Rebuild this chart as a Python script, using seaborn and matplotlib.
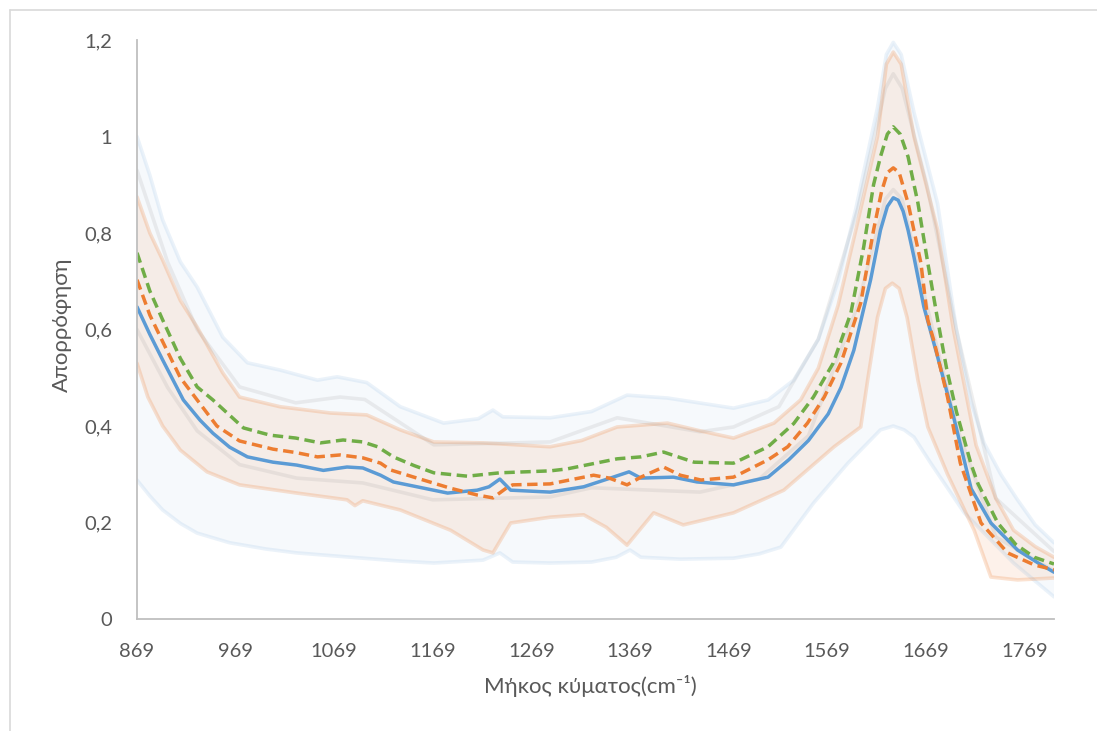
import numpy as np
import pandas as pd
import matplotlib
matplotlib.use("Agg")
import matplotlib.pyplot as plt
from matplotlib.lines import Line2D
import seaborn as sns

# ---------------- data ----------------
blue_x = [869, 882, 895, 916, 933, 946, 963, 981, 1007, 1031, 1058, 1082, 1098, 1116, 1129, 1153,
          1184, 1214, 1226, 1237, 1248, 1288, 1322, 1349, 1368, 1380, 1413, 1437, 1474, 1509, 1530,
          1550, 1570, 1583, 1596, 1613, 1623, 1630, 1636, 1641, 1646, 1651, 1657, 1667, 1681, 1697,
          1715, 1735, 1762, 1783, 1799]
blue_y = [0.647, 0.59, 0.537, 0.454, 0.412, 0.385, 0.356, 0.336, 0.325, 0.319, 0.308, 0.315, 0.313,
          0.298, 0.284, 0.274, 0.261, 0.267, 0.274, 0.290, 0.267, 0.263, 0.274, 0.292, 0.305, 0.292,
          0.294, 0.284, 0.278, 0.294, 0.33, 0.37, 0.425, 0.48, 0.557, 0.703, 0.806, 0.855, 0.873,
          0.868, 0.845, 0.806, 0.750, 0.647, 0.543, 0.420, 0.270, 0.199, 0.143, 0.116, 0.097]

orange_x = [869, 882, 895, 913, 930, 950, 973, 1007, 1030, 1052, 1075, 1098, 1116, 1126, 1153, 1187,
            1214, 1230, 1244, 1250, 1288, 1332, 1348, 1366, 1380, 1403, 1420, 1441, 1474, 1509, 1529,
            1549, 1566, 1583, 1603, 1616, 1624, 1630, 1636, 1642, 1651, 1664, 1671, 1677, 1691, 1704,
            1725, 1752, 1779, 1799]
orange_y = [0.703, 0.63, 0.575, 0.50, 0.454, 0.40, 0.369, 0.352, 0.345, 0.336, 0.340, 0.334, 0.323,
            0.309, 0.292, 0.271, 0.257, 0.251, 0.272, 0.278, 0.280, 0.298, 0.292, 0.278, 0.294, 0.315,
            0.298, 0.288, 0.294, 0.330, 0.357, 0.406, 0.46, 0.531, 0.655, 0.806, 0.885, 0.925, 0.935,
            0.925, 0.862, 0.738, 0.620, 0.578, 0.460, 0.323, 0.199, 0.137, 0.112, 0.102]

green_x = [869, 882, 895, 913, 930, 946, 977, 1004, 1030, 1055, 1078, 1098, 1113, 1129, 1150, 1170,
           1204, 1237, 1288, 1305, 1356, 1380, 1403, 1434, 1474, 1509, 1535, 1555, 1575, 1593, 1606,
           1616, 1623, 1630, 1636, 1643, 1651, 1661, 1671, 1681, 1690, 1700, 1715, 1722, 1742, 1760,
           1779, 1799]
green_y = [0.759, 0.68, 0.62, 0.54, 0.481, 0.454, 0.396, 0.381, 0.375, 0.365, 0.371, 0.367, 0.357,
           0.336, 0.318, 0.303, 0.296, 0.303, 0.307, 0.311, 0.332, 0.336, 0.346, 0.325, 0.323, 0.357,
           0.405, 0.46, 0.53, 0.634, 0.771, 0.90, 0.958, 1.005, 1.020, 1.005, 0.958, 0.862, 0.738,
           0.620, 0.52, 0.43, 0.32, 0.28, 0.199, 0.155, 0.128, 0.114]

# error envelopes
blue_up_x = [869, 882, 895, 913, 930, 956, 981, 1014, 1052, 1072, 1102, 1136, 1180, 1215, 1230, 1240,
             1288, 1330, 1366, 1407, 1474, 1509, 1535, 1560, 1580, 1598, 1620, 1629, 1636, 1644, 1657,
             1681, 1700, 1715, 1728, 1745, 1762, 1780, 1799]
blue_up_y = [1.00, 0.92, 0.827, 0.74, 0.688, 0.584, 0.531, 0.516, 0.495, 0.502, 0.490, 0.44, 0.406,
             0.415, 0.433, 0.419, 0.417, 0.43, 0.464, 0.458, 0.437, 0.454, 0.495, 0.58, 0.70, 0.85,
             1.06, 1.17, 1.195, 1.17, 1.05, 0.86, 0.60, 0.45, 0.365, 0.30, 0.247, 0.195, 0.158]
blue_lo_x = [869, 882, 895, 913, 930, 963, 1000, 1031, 1098, 1136, 1170, 1220, 1237, 1250, 1288, 1330,
             1355, 1369, 1380, 1420, 1474, 1500, 1522, 1555, 1590, 1623, 1636, 1647, 1657, 1674, 1708,
             1758, 1799]
blue_lo_y = [0.288, 0.255, 0.226, 0.198, 0.178, 0.158, 0.145, 0.137, 0.126, 0.120, 0.116, 0.122,
             0.137, 0.118, 0.116, 0.118, 0.128, 0.143, 0.128, 0.124, 0.126, 0.135, 0.149, 0.240,
             0.323, 0.392, 0.400, 0.392, 0.377, 0.323, 0.220, 0.116, 0.046]

orange_up_x = [869, 882, 895, 913, 930, 956, 973, 1014, 1065, 1102, 1136, 1170, 1220, 1288, 1320, 1356,
               1407, 1440, 1474, 1515, 1542, 1560, 1580, 1598, 1620, 1629, 1636, 1644, 1657, 1681,
               1697, 1720, 1740, 1758, 1780, 1799]
orange_up_y = [0.875, 0.80, 0.744, 0.66, 0.605, 0.51, 0.46, 0.44, 0.427, 0.423, 0.392, 0.367, 0.365,
               0.357, 0.37, 0.398, 0.406, 0.39, 0.375, 0.406, 0.454, 0.52, 0.65, 0.806, 1.0, 1.15,
               1.175, 1.15, 1.0, 0.806, 0.60, 0.36, 0.25, 0.184, 0.15, 0.128]
orange_lo_x = [869, 880, 895, 913, 940, 973, 1031, 1082, 1090, 1098, 1136, 1187, 1220, 1230, 1248, 1288,
               1322, 1345, 1366, 1393, 1423, 1474, 1525, 1576, 1603, 1610, 1620, 1628, 1635, 1642,
               1650, 1661, 1671, 1691, 1718, 1735, 1762, 1799]
orange_lo_y = [0.53, 0.46, 0.40, 0.35, 0.305, 0.278, 0.261, 0.247, 0.235, 0.245, 0.226, 0.184, 0.143,
               0.137, 0.199, 0.211, 0.216, 0.19, 0.153, 0.220, 0.195, 0.220, 0.267, 0.357, 0.398,
               0.495, 0.625, 0.685, 0.696, 0.685, 0.625, 0.495, 0.398, 0.30, 0.184, 0.087, 0.081,
               0.085]

green_up_x = [869, 900, 930, 973, 1030, 1075, 1100, 1170, 1288, 1356, 1440, 1474, 1520, 1560, 1600,
              1628, 1636, 1645, 1670, 1700, 1740, 1799]
green_up_y = [0.93, 0.74, 0.60, 0.481, 0.448, 0.460, 0.455, 0.361, 0.367, 0.417, 0.388, 0.398, 0.44,
              0.58, 0.85, 1.10, 1.13, 1.10, 0.90, 0.60, 0.25, 0.14]
green_lo_x = [869, 900, 930, 973, 1031, 1098, 1169, 1288, 1330, 1440, 1500, 1550, 1600, 1628, 1636,
              1645, 1670, 1700, 1740, 1799]
green_lo_y = [0.60, 0.48, 0.39, 0.32, 0.292, 0.282, 0.247, 0.253, 0.272, 0.263, 0.29, 0.38, 0.65, 0.87,
              0.89, 0.87, 0.65, 0.40, 0.17, 0.10]

x_ticks = [869, 969, 1069, 1169, 1269, 1369, 1469, 1569, 1669, 1769]
y_ticks = [0, 0.2, 0.4, 0.6, 0.8, 1.0, 1.2]
y_tick_labels = ["0", "0,2", "0,4", "0,6", "0,8", "1", "1,2"]
x_label = "Μήκος κύματος(cm⁻¹)"
y_label = "Απορρόφηση"

# ---------------- style ----------------
sns.set_theme(style="white")
plt.rcParams["font.family"] = ["Lato", "DejaVu Sans"]

BLUE = "#5B9BD5"
ORANGE = "#ED7D31"
GREEN = "#70AD47"
TXT = "#595959"

fig = plt.figure(figsize=(10.97, 7.31), dpi=100)
ax = fig.add_axes([137 / 1097, (731 - 619) / 731, (1054 - 137) / 1097, (619 - 40) / 731])


def band(xu, yu, xl, yl, color, fill_alpha, edge_color, edge_alpha, lw=2.6):
    px = np.concatenate([np.asarray(xu, float), np.asarray(xl, float)[::-1]])
    py = np.concatenate([np.asarray(yu, float), np.asarray(yl, float)[::-1]])
    ax.fill(px, py, color=color, alpha=fill_alpha, lw=0)
    sns.lineplot(x=xu, y=yu, ax=ax, color=edge_color, alpha=edge_alpha, lw=lw, sort=False)
    sns.lineplot(x=xl, y=yl, ax=ax, color=edge_color, alpha=edge_alpha, lw=lw, sort=False)


band(blue_up_x, blue_up_y, blue_lo_x, blue_lo_y, BLUE, 0.05, BLUE, 0.12)
band(orange_up_x, orange_up_y, orange_lo_x, orange_lo_y, ORANGE, 0.10, ORANGE, 0.22)
band(green_up_x, green_up_y, green_lo_x, green_lo_y, "#9a9a9a", 0.0, "#9a9a9a", 0.16)

sns.lineplot(x=blue_x, y=blue_y, ax=ax, color=BLUE, lw=2.5, sort=False)
sns.lineplot(x=orange_x, y=orange_y, ax=ax, color=ORANGE, lw=2.5, sort=False)
ax.lines[-1].set_dashes([3, 1.6])
sns.lineplot(x=green_x, y=green_y, ax=ax, color=GREEN, lw=2.5, sort=False)
ax.lines[-1].set_dashes([3, 1.6])

ax.set_xlim(869, 1799)
ax.set_ylim(0, 1.2)
ax.set_xticks(x_ticks)
ax.set_xticklabels([str(t) for t in x_ticks])
ax.set_yticks(y_ticks)
ax.set_yticklabels(y_tick_labels)
ax.tick_params(axis="both", length=0, labelsize=14.5, colors=TXT)
ax.tick_params(axis="x", pad=17)
ax.tick_params(axis="y", pad=18)

for s in ["top", "right"]:
    ax.spines[s].set_visible(False)
for s in ["left", "bottom"]:
    ax.spines[s].set_color("#bfbfbf")
    ax.spines[s].set_linewidth(1.3)
ax.grid(False)

ax.set_xlabel(x_label, fontsize=16, color=TXT)
ax.set_ylabel(y_label, fontsize=16, color=TXT)
ax.xaxis.set_label_coords((590 - 137) / 917, (619 - 675) / 579)
ax.yaxis.set_label_coords((72 - 137) / 917, (619 - 325) / 579)

# outer chart-area frame
fig.add_artist(Line2D([10 / 1097, 10 / 1097], [0, (731 - 10) / 731], transform=fig.transFigure,
                      color="#d9d9d9", lw=1.2))
fig.add_artist(Line2D([10 / 1097, 1], [(731 - 10) / 731, (731 - 10) / 731], transform=fig.transFigure,
                      color="#d9d9d9", lw=1.2))

fig.savefig("out.png", dpi=100, facecolor="white")
